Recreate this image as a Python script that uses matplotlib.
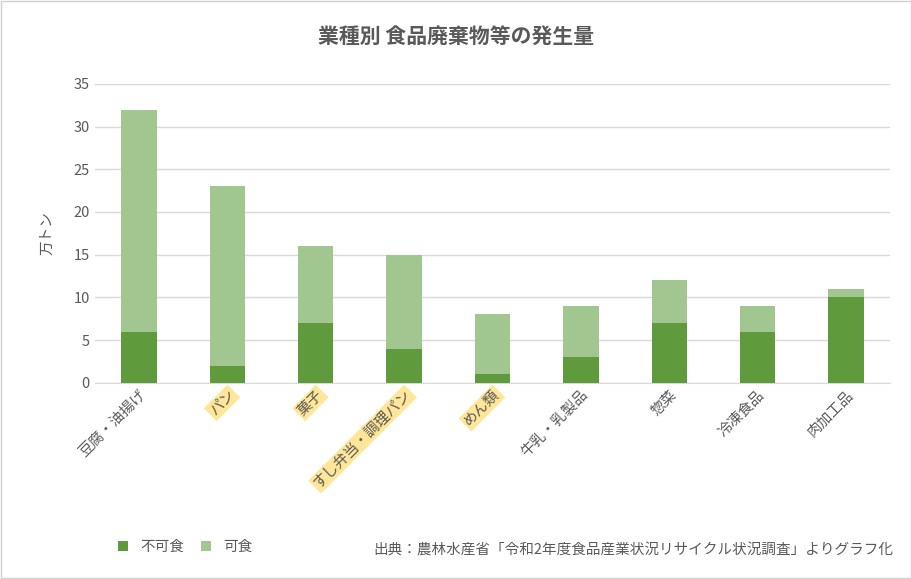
import matplotlib.pyplot as plt
from matplotlib.patches import Rectangle

plt.rcParams["font.family"] = "Noto Sans CJK JP"

categories = ["豆腐・油揚げ", "パン", "菓子", "すし弁当・調理パン", "めん類",
              "牛乳・乳製品", "惣菜", "冷凍食品", "肉加工品"]
inedible = [6, 2, 7, 4, 1, 3, 7, 6, 10]
edible = [26, 21, 9, 11, 7, 6, 5, 3, 1]
highlighted = ["パン", "菓子", "すし弁当・調理パン", "めん類"]
yticks = [0, 5, 10, 15, 20, 25, 30, 35]

dark = "#5f9a3c"
light = "#a2c68f"
gray = "#595959"

fig = plt.figure(figsize=(9.12, 5.79), dpi=100)
fig.patches.append(Rectangle((0.001, 0.001), 0.998, 0.998, transform=fig.transFigure,
                             fill=False, edgecolor="#d0d0d0", linewidth=1))
ax = fig.add_axes((0.104, 0.339, 0.872, 0.516))

x = range(len(categories))
ax.bar(x, inedible, width=0.4, color=dark, label="不可食", zorder=3)
ax.bar(x, edible, width=0.4, bottom=inedible, color=light, label="可食", zorder=3)

ax.set_ylim(0, 35)
ax.set_xlim(-0.5, len(categories) - 0.5)
ax.set_yticks(yticks)
ax.grid(axis="y", color="#d9d9d9", linewidth=1, zorder=0)
ax.tick_params(axis="y", length=0, labelsize=10.5, labelcolor=gray)
ax.tick_params(axis="x", length=0, labelsize=10.5, labelcolor=gray)
for s in ["top", "right", "left"]:
    ax.spines[s].set_visible(False)
ax.spines["bottom"].set_color("#d9d9d9")

ax.set_xticks(list(x))
ax.set_xticklabels(categories, rotation=45, ha="right", rotation_mode="anchor")
for lbl in ax.get_xticklabels():
    if lbl.get_text() in highlighted:
        lbl.set_bbox(dict(facecolor="#ffe699", edgecolor="none", pad=1.5))

ax.set_ylabel("万トン", color=gray, fontsize=10.5, labelpad=14)

fig.suptitle("業種別 食品廃棄物等の発生量", x=0.5, y=0.955, fontsize=15,
             fontweight="bold", color=gray)

fig.legend(loc="lower left", bbox_to_anchor=(0.115, 0.02), ncol=2, frameon=False,
           fontsize=10.5, labelcolor=gray, handlelength=0.7, handleheight=0.7,
           columnspacing=1.2)
fig.text(0.98, 0.05, "出典：農林水産省「令和2年度食品産業状況リサイクル状況調査」よりグラフ化",
         ha="right", va="center", fontsize=10.5, color=gray)

fig.savefig("out.png")
